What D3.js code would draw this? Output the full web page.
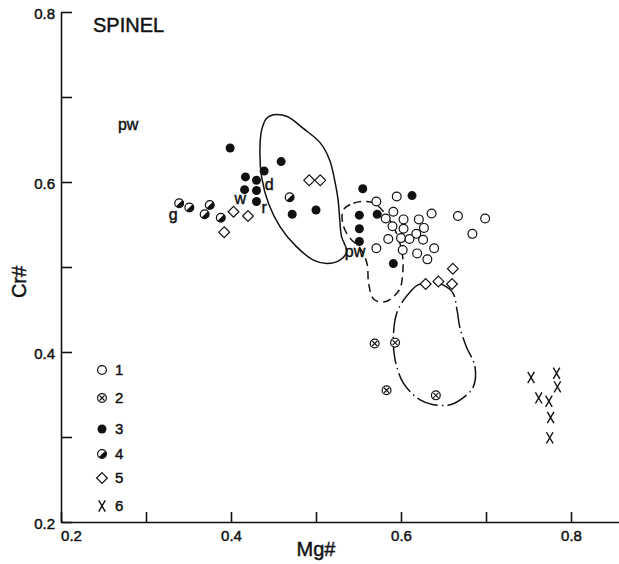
<!DOCTYPE html>
<html><head><meta charset="utf-8">
<script src="https://cdn.jsdelivr.net/npm/d3@7"></script>
<style>
body{margin:0;background:#fff}
svg{display:block}
text{font-family:"Liberation Sans",Arial,Helvetica,sans-serif;fill:#111;stroke:#111;stroke-width:0.45px}
</style>
</head><body>
<svg id="chart" width="619" height="564"></svg>
<script>
// ---------- DATA (Mg#, Cr#) ----------
const xTickValues = [0.2,0.3,0.4,0.5,0.6,0.7,0.8];
const xTickLabels = ["0.2","","0.4","","0.6","","0.8"];
const yTickValues = [0.2,0.3,0.4,0.5,0.6,0.7,0.8];
const yTickLabels = ["0.2","","0.4","","0.6","","0.8"];

const group1 = [[0.571,0.577],[0.595,0.583],[0.591,0.565],[0.582,0.557],[0.603,0.556],[0.621,0.556],
  [0.636,0.563],[0.667,0.560],[0.699,0.557],[0.590,0.548],[0.603,0.545],[0.627,0.546],[0.618,0.539],
  [0.684,0.539],[0.585,0.533],[0.600,0.534],[0.610,0.533],[0.626,0.532],[0.571,0.522],[0.602,0.520],
  [0.639,0.522],[0.619,0.516],[0.631,0.509]];
const group2 = [[0.569,0.410],[0.593,0.411],[0.583,0.355],[0.641,0.349]];
const group3 = [[0.399,0.640],[0.459,0.624],[0.439,0.613],[0.417,0.606],[0.430,0.602],[0.416,0.591],
  [0.430,0.590],[0.430,0.577],[0.472,0.562],[0.500,0.567],[0.555,0.592],[0.613,0.584],[0.551,0.561],
  [0.572,0.562],[0.551,0.545],[0.551,0.530],[0.591,0.504]];
const group4 = [[0.339,0.575],[0.351,0.570],[0.375,0.573],[0.369,0.562],[0.388,0.558],[0.469,0.582]];
const group5 = [[0.403,0.565],[0.420,0.560],[0.392,0.541],[0.492,0.602],[0.505,0.602],
  [0.629,0.480],[0.644,0.483],[0.660,0.480],[0.661,0.498]];
const group6 = [[0.753,0.370],[0.783,0.375],[0.784,0.359],[0.762,0.346],[0.774,0.342],[0.776,0.323],[0.775,0.299]];

const solidField = [[0.450,0.679],[0.466,0.677],[0.485,0.663],[0.505,0.646],[0.516,0.626],[0.522,0.602],
  [0.526,0.579],[0.528,0.555],[0.530,0.536],[0.536,0.518],[0.528,0.508],[0.513,0.504],[0.497,0.508],
  [0.477,0.524],[0.458,0.547],[0.444,0.575],[0.436,0.606],[0.434,0.634],[0.436,0.661],[0.442,0.675]];
const dashedField = [[0.532,0.567],[0.544,0.575],[0.566,0.576],[0.582,0.562],[0.595,0.539],[0.602,0.512],
  [0.602,0.493],[0.599,0.475],[0.591,0.465],[0.581,0.459],[0.568,0.462],[0.562,0.480],[0.560,0.504],
  [0.552,0.522],[0.540,0.534],[0.532,0.549]];
const dashDotField = [[0.603,0.461],[0.611,0.471],[0.620,0.479],[0.640,0.482],[0.660,0.471],[0.666,0.449],
  [0.669,0.430],[0.677,0.406],[0.687,0.383],[0.685,0.359],[0.673,0.346],[0.658,0.338],[0.638,0.338],
  [0.622,0.344],[0.603,0.363],[0.593,0.391],[0.591,0.418],[0.595,0.446]];

const annoText = ["pw","g","w","d","r","pw"];
const annoMg   = [0.279,0.332,0.411,0.445,0.439,0.546];
const annoCr   = [0.667,0.561,0.580,0.596,0.569,0.518];

const legendLabels = ["1","2","3","4","5","6"];

// ---------- SCALES ----------
const svg = d3.select("#chart");
const x = d3.scaleLinear().domain([0.2,0.86]).range([61,622]);
const y = d3.scaleLinear().domain([0.2,0.8]).range([522,12]);

// ---------- AXES ----------
const xAxis = svg.append("g").attr("transform","translate(0,522)")
  .call(d3.axisBottom(x).tickValues(xTickValues).tickSizeInner(-10).tickSizeOuter(0).tickPadding(8)
    .tickFormat((d,i)=>xTickLabels[i]));
const yAxis = svg.append("g").attr("transform","translate(61,0)")
  .call(d3.axisLeft(y).tickValues(yTickValues).tickSizeInner(-11).tickSizeOuter(0).tickPadding(6)
    .tickFormat((d,i)=>yTickLabels[i]));
[xAxis,yAxis].forEach(a=>{
  a.selectAll("path,line").attr("stroke","#111").attr("stroke-width",1.6);
  a.selectAll("text").attr("font-size",15).attr("font-family","Liberation Sans, Arial, sans-serif").attr("fill","#111");
});
xAxis.selectAll(".tick text").filter(d=>d===0.2).attr("dx",10);
yAxis.selectAll(".tick text").attr("dy","0.45em");

svg.append("text").attr("x",316).attr("y",556).attr("text-anchor","middle").attr("font-size",20).text("Mg#");
svg.append("text").attr("transform","translate(26,282) rotate(-90)").attr("text-anchor","middle").attr("font-size",20).text("Cr#");
svg.append("text").attr("x",93).attr("y",32).attr("font-size",20).text("SPINEL");

// ---------- FIELDS ----------
const line = d3.line().x(d=>x(d[0])).y(d=>y(d[1])).curve(d3.curveCatmullRomClosed.alpha(0.5));
svg.append("path").attr("d",line(solidField)).attr("fill","none").attr("stroke","#111").attr("stroke-width",1.5);
svg.append("path").attr("d",line(dashedField)).attr("fill","none").attr("stroke","#111").attr("stroke-width",1.5).attr("stroke-dasharray","8,5");
svg.append("path").attr("d",line(dashDotField)).attr("fill","none").attr("stroke","#111").attr("stroke-width",1.5).attr("stroke-dasharray","22,4,1.5,4");

// ---------- SYMBOLS ----------
function drawSym(g, type){
  const k = "#111";
  if(type===1){ g.append("circle").attr("r",4.4).attr("fill","#fff").attr("stroke",k).attr("stroke-width",1.2); }
  else if(type===2){
    g.append("circle").attr("r",4.4).attr("fill","#fff").attr("stroke",k).attr("stroke-width",1.2);
    g.append("path").attr("d","M-2.5,-2.5L2.5,2.5M2.5,-2.5L-2.5,2.5").attr("stroke",k).attr("stroke-width",1.1);
  }
  else if(type===3){ g.append("circle").attr("r",4.5).attr("fill",k); }
  else if(type===4){
    g.append("circle").attr("r",4.4).attr("fill","#fff").attr("stroke",k).attr("stroke-width",1.2);
    const r=4.4, c=r*0.7071;
    g.append("path").attr("d",`M${c},${-c}A${r},${r} 0 0 1 ${-c},${c}Z`).attr("fill",k);
  }
  else if(type===5){ g.append("path").attr("d","M0,-5.4L5.4,0L0,5.4L-5.4,0Z").attr("fill","#fff").attr("stroke",k).attr("stroke-width",1.2); }
  else if(type===6){ g.append("path").attr("d","M-3.3,-5.6Q0,0 3.3,5.6M3.3,-5.6Q0,0 -3.3,5.6").attr("fill","none").attr("stroke",k).attr("stroke-width",1.4); }
}
const groups = [group1,group2,group3,group4,group5,group6];
groups.forEach((data,i)=>{
  svg.append("g").selectAll("g").data(data).join("g")
    .attr("transform",d=>`translate(${x(d[0])},${y(d[1])})`)
    .each(function(){ drawSym(d3.select(this), i+1); });
});

// ---------- ANNOTATIONS ----------
svg.append("g").selectAll("text").data(annoText).join("text")
  .attr("x",(d,i)=>x(annoMg[i])).attr("y",(d,i)=>y(annoCr[i]))
  .attr("dy","0.3em").attr("text-anchor","middle").attr("font-size",16).text(d=>d);

// ---------- LEGEND ----------
const legY = [370,398,429,454,478,506];
const leg = svg.append("g").selectAll("g").data(legendLabels).join("g")
  .attr("transform",(d,i)=>`translate(102,${legY[i]})`);
leg.each(function(d,i){ drawSym(d3.select(this), i+1); });
leg.append("text").attr("x",13).attr("dy","0.36em").attr("font-size",15).text(d=>d);
</script>
</body></html>
